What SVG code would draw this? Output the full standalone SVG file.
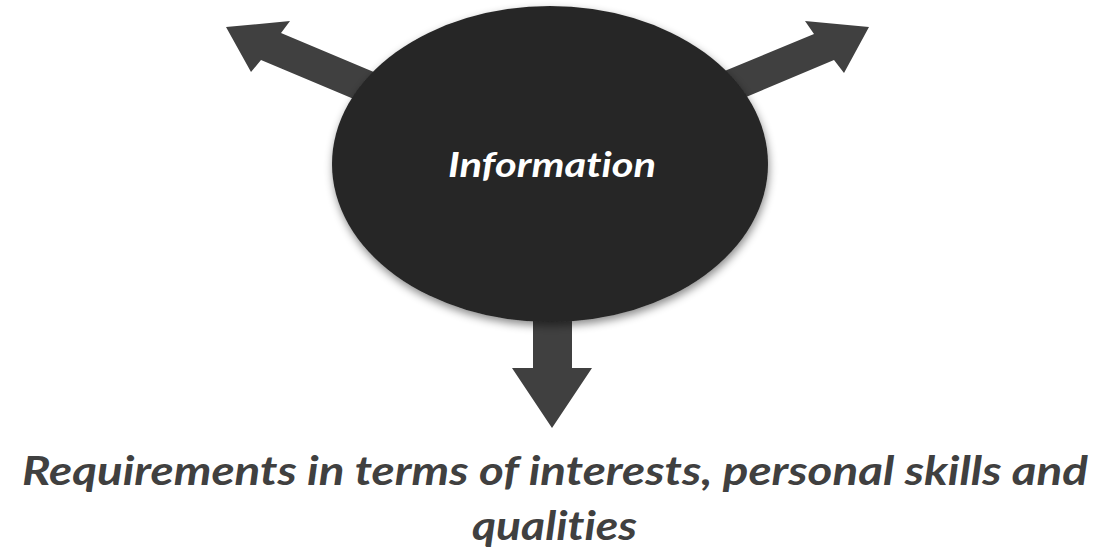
<svg xmlns="http://www.w3.org/2000/svg" width="1117" height="551" viewBox="0 0 1117 551">
<style>
.arrow{fill:#404040;}
.hub{fill:#262626;}
.t{font-family:Lato,"Open Sans","Liberation Sans",sans-serif;font-weight:bold;font-style:italic;font-variant-ligatures:none;font-feature-settings:"liga" 0,"dlig" 0;}
.hubtext{fill:#ffffff;font-size:35px;}
.label{fill:#404040;font-size:40px;}
</style>
<defs>
<filter id="sh" x="-10%" y="-10%" width="120%" height="125%">
<feDropShadow dx="1" dy="4" stdDeviation="4" flood-color="#000" flood-opacity="0.45"/>
</filter>
</defs>
<rect width="1117" height="551" fill="#ffffff"/>
<g id="connectors">
<polygon class="arrow" points="226,27 290,21 281,33 419,91 399,118 261,60 251,72"/>
<polygon class="arrow" points="869,27 805,21 814,34 676,91 696,118 834,60 844,73"/>
<polygon class="arrow" points="533,300 572,300 572,368 592,368 552,428 512,368 533,368"/>
</g>
<g id="node-information">
<ellipse class="hub" cx="550" cy="164" rx="218" ry="158" filter="url(#sh)"/>
<text class="t hubtext" x="552" y="177" text-anchor="middle" textLength="208" lengthAdjust="spacingAndGlyphs">Information</text>
</g>
<g id="node-requirements">
<text class="t label" x="555" y="485" text-anchor="middle" textLength="1066" lengthAdjust="spacingAndGlyphs">Requirements in terms of interests, personal skills and</text>
<text class="t label" x="554.5" y="540" text-anchor="middle" textLength="165" lengthAdjust="spacingAndGlyphs">qualities</text>
</g>
</svg>
